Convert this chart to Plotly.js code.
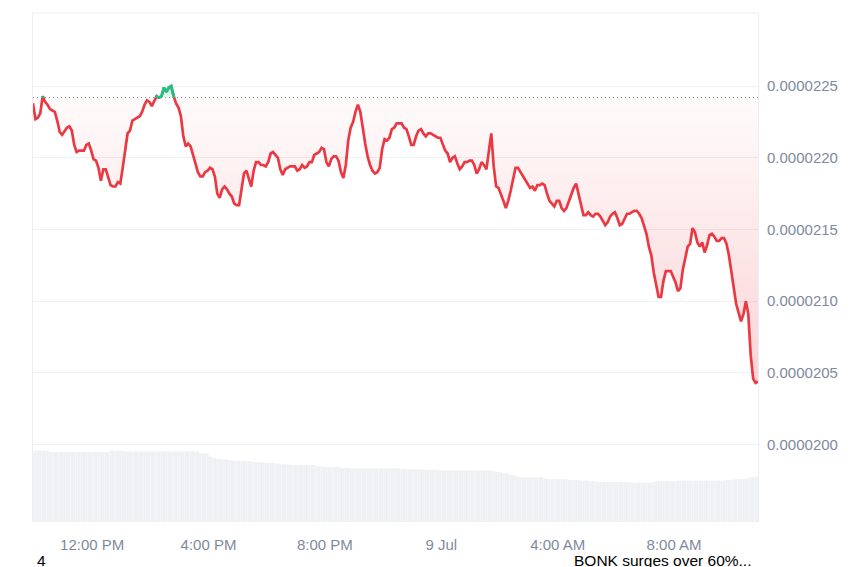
<!DOCTYPE html>
<html>
<head>
<meta charset="utf-8">
<script src="https://cdn.plot.ly/plotly-3.0.1.min.js"></script>
<style>
html,body{margin:0;padding:0;background:#ffffff;}
#chart{width:850px;height:567px;}
</style>
</head>
<body>
<div id="chart"></div>
<script>
// ---- data (5-minute samples) ----
const startTime = '2024-07-08T09:58:00Z';
const endTime = '2024-07-09T10:53:00Z';
const stepMinutes = 5;

const price = [
2.238e-5,2.227e-5,2.228e-5,2.231e-5,2.243e-5,2.239e-5,2.237e-5,2.234e-5,2.233e-5,2.232e-5,
2.226e-5,2.218e-5,2.216e-5,2.219e-5,2.221e-5,2.222e-5,2.219e-5,2.209e-5,2.204e-5,2.205e-5,
2.205e-5,2.205e-5,2.209e-5,2.210e-5,2.205e-5,2.199e-5,2.198e-5,2.193e-5,2.184e-5,2.192e-5,
2.192e-5,2.186e-5,2.181e-5,2.180e-5,2.180e-5,2.183e-5,2.182e-5,2.193e-5,2.207e-5,2.217e-5,
2.219e-5,2.226e-5,2.227e-5,2.228e-5,2.229e-5,2.232e-5,2.237e-5,2.240e-5,2.239e-5,2.236e-5,
2.240e-5,2.243e-5,2.242e-5,2.243e-5,2.249e-5,2.246e-5,2.249e-5,2.250e-5,2.243e-5,2.238e-5,
2.235e-5,2.229e-5,2.215e-5,2.208e-5,2.210e-5,2.208e-5,2.202e-5,2.196e-5,2.190e-5,2.187e-5,
2.187e-5,2.190e-5,2.191e-5,2.193e-5,2.192e-5,2.187e-5,2.175e-5,2.172e-5,2.178e-5,2.180e-5,
2.178e-5,2.175e-5,2.173e-5,2.168e-5,2.167e-5,2.167e-5,2.177e-5,2.189e-5,2.191e-5,2.185e-5,
2.180e-5,2.191e-5,2.197e-5,2.197e-5,2.195e-5,2.195e-5,2.194e-5,2.197e-5,2.203e-5,2.204e-5,
2.202e-5,2.200e-5,2.192e-5,2.188e-5,2.192e-5,2.193e-5,2.194e-5,2.194e-5,2.194e-5,2.191e-5,
2.192e-5,2.195e-5,2.193e-5,2.194e-5,2.197e-5,2.197e-5,2.202e-5,2.203e-5,2.204e-5,2.207e-5,
2.206e-5,2.197e-5,2.194e-5,2.199e-5,2.201e-5,2.201e-5,2.198e-5,2.190e-5,2.186e-5,2.195e-5,
2.212e-5,2.221e-5,2.225e-5,2.232e-5,2.237e-5,2.232e-5,2.220e-5,2.210e-5,2.201e-5,2.195e-5,
2.191e-5,2.189e-5,2.190e-5,2.193e-5,2.206e-5,2.213e-5,2.212e-5,2.214e-5,2.220e-5,2.221e-5,
2.224e-5,2.224e-5,2.224e-5,2.221e-5,2.220e-5,2.215e-5,2.209e-5,2.209e-5,2.215e-5,2.219e-5,
2.220e-5,2.217e-5,2.215e-5,2.217e-5,2.217e-5,2.216e-5,2.215e-5,2.214e-5,2.214e-5,2.209e-5,
2.205e-5,2.203e-5,2.197e-5,2.200e-5,2.201e-5,2.196e-5,2.192e-5,2.194e-5,2.197e-5,2.197e-5,
2.198e-5,2.198e-5,2.195e-5,2.189e-5,2.192e-5,2.197e-5,2.195e-5,2.192e-5,2.206e-5,2.217e-5,
2.194e-5,2.180e-5,2.179e-5,2.175e-5,2.170e-5,2.165e-5,2.170e-5,2.177e-5,2.185e-5,2.193e-5,
2.193e-5,2.190e-5,2.188e-5,2.185e-5,2.182e-5,2.179e-5,2.180e-5,2.177e-5,2.181e-5,2.181e-5,
2.182e-5,2.181e-5,2.175e-5,2.170e-5,2.168e-5,2.166e-5,2.170e-5,2.170e-5,2.165e-5,2.163e-5,
2.165e-5,2.170e-5,2.175e-5,2.179e-5,2.182e-5,2.175e-5,2.166e-5,2.160e-5,2.160e-5,2.162e-5,
2.160e-5,2.159e-5,2.161e-5,2.161e-5,2.159e-5,2.156e-5,2.153e-5,2.155e-5,2.159e-5,2.161e-5,
2.162e-5,2.158e-5,2.153e-5,2.154e-5,2.158e-5,2.161e-5,2.161e-5,2.162e-5,2.163e-5,2.163e-5,
2.161e-5,2.158e-5,2.153e-5,2.147e-5,2.138e-5,2.132e-5,2.120e-5,2.110e-5,2.103e-5,2.103e-5,
2.114e-5,2.121e-5,2.121e-5,2.121e-5,2.117e-5,2.113e-5,2.107e-5,2.109e-5,2.122e-5,2.131e-5,
2.138e-5,2.140e-5,2.151e-5,2.148e-5,2.141e-5,2.138e-5,2.141e-5,2.134e-5,2.139e-5,2.146e-5,
2.147e-5,2.145e-5,2.142e-5,2.142e-5,2.144e-5,2.144e-5,2.140e-5,2.132e-5,2.121e-5,2.108e-5,
2.098e-5,2.092e-5,2.086e-5,2.091e-5,2.100e-5,2.091e-5,2.062e-5,2.046e-5,2.043e-5,2.044e-5
];

// rolling volume (relative units)
const volume = [
105,105,105,105,105,105,105,
103,103,103,103,103,103,103,103,103,103,103,103,103,103,103,103,103,103,103,103,103,103,103,103,103,
105,105,105,105,105,105,
104,104,104,104,104,104,104,104,104,104,104,104,104,104,104,104,104,104,104,104,104,104,104,104,104,104,104,104,104,104,104,
101,101,101,101,
96,95,94,
93,93,92,92,92,91,91,
90,90,90,90,90,90,90,
89,89,88,88,88,88,88,87,87,87,86,
86,86,85,85,85,
84,84,84,84,84,84,84,84,84,84,84,
82,82,82,81,81,81,81,81,81,81,80,80,80,80,
79,79,79,79,79,79,79,79,79,79,79,79,79,79,79,79,79,79,79,79,79,
78,78,78,78,78,78,78,78,78,78,
77,77,77,77,77,77,
76,76,76,76,76,76,76,76,76,76,76,76,76,76,76,76,76,76,76,76,76,76,
75,74,74,73,72,72,71,70,69,68,67,
66,66,66,66,66,66,66,66,66,66,
64,64,63,63,63,63,63,63,63,63,62,62,62,62,62,61,61,61,61,60,
60,60,59,59,59,59,59,59,59,59,59,59,59,59,59,59,58,58,58,
58,58,58,58,58,58,
59,60,60,60,60,60,60,60,60,60,
61,61,61,61,61,61,61,61,61,61,61,61,61,61,61,61,61,61,61,61,
62,62,62,63,63,63,63,63,
64,65,66,66,66,67
];

const baseline = 0.00002242;   // reference (opening) price, dotted line
const yTickVals = [0.0000200, 0.0000205, 0.0000210, 0.0000215, 0.0000220, 0.0000225];
const yRange = [0.00001946, 0.00002301];
const xTickVals = ['2024-07-08 12:00', '2024-07-08 16:00', '2024-07-08 20:00',
                   '2024-07-09 00:00', '2024-07-09 04:00', '2024-07-09 08:00'];
const xTickText = ['12:00 PM', '4:00 PM', '8:00 PM', '9 Jul', '4:00 AM', '8:00 AM'];

// ---- build ----
const t0 = Date.parse(startTime);
const times = price.map((_, i) => t0 + i * stepMinutes * 60000);
const n = price.length;

// green overlay: parts of the line above the baseline
const gx = [], gy = [];
function cross(i, j) {
  const a = price[i], b = price[j];
  const f = (baseline - a) / (b - a);
  return times[i] + f * (times[j] - times[i]);
}
for (let i = 0; i < n; i++) {
  if (price[i] > baseline) {
    if (i > 0 && price[i - 1] <= baseline) { gx.push(cross(i - 1, i)); gy.push(baseline); }
    gx.push(times[i]); gy.push(price[i]);
    if (i < n - 1 && price[i + 1] <= baseline) { gx.push(cross(i, i + 1)); gy.push(baseline); gx.push(null); gy.push(null); }
  }
}

const red = '#ea3943';
const green = '#16c784';
const gStart = 0.00002040, gStop = 0.00002251;
const bf = (baseline - gStart) / (gStop - gStart);

const traces = [
  {
    type: 'bar', x: times, y: volume, yaxis: 'y2',
    marker: {color: '#eef0f3', line: {width: 0}},
    hoverinfo: 'skip'
  },
  {
    type: 'scatter', mode: 'lines', x: times, y: price.map(() => baseline),
    line: {width: 0, color: 'rgba(0,0,0,0)'}, hoverinfo: 'skip'
  },
  {
    type: 'scatter', mode: 'lines', x: times, y: price,
    line: {color: red, width: 2.7, shape: 'linear'},
    fill: 'tonexty',
    fillgradient: {
      type: 'vertical', start: gStart, stop: gStop,
      colorscale: [
        [0, 'rgba(234,57,67,0.22)'],
        [bf - 0.002, 'rgba(234,57,67,0.02)'],
        [bf + 0.002, 'rgba(22,199,132,0.12)'],
        [1, 'rgba(22,199,132,0.30)']
      ]
    }
  },
  {
    type: 'scatter', mode: 'lines', x: gx, y: gy, connectgaps: false,
    line: {color: green, width: 2.7}, hoverinfo: 'skip'
  }
];

const font = 'Liberation Sans, Arial, sans-serif';
const layout = {
  width: 850, height: 567,
  margin: {l: 33, r: 92, t: 13, b: 45, pad: 0},
  paper_bgcolor: '#ffffff', plot_bgcolor: '#ffffff',
  showlegend: false,
  bargap: 0.05,
  font: {family: font, size: 15, color: '#808a9d'},
  xaxis: {
    type: 'date',
    range: [t0, Date.parse(endTime)],
    tickvals: xTickVals, ticktext: xTickText,
    showgrid: false, zeroline: false, showline: false,
    ticks: 'outside', ticklen: 9, tickcolor: 'rgba(0,0,0,0)',
    tickfont: {family: font, size: 15, color: '#808a9d'}
  },
  yaxis: {
    side: 'right', range: yRange,
    tickvals: yTickVals, tickformat: '.7f',
    showgrid: true, gridcolor: '#eff1f4', gridwidth: 1,
    zeroline: false,
    showline: true, mirror: true, linecolor: '#eceef1', linewidth: 1,
    ticks: 'outside', ticklen: 5, tickcolor: 'rgba(0,0,0,0)',
    tickfont: {family: font, size: 15, color: '#808a9d'}
  },
  yaxis2: {
    overlaying: 'y', range: [0, 750], visible: false, fixedrange: true
  },
  shapes: [
    {type: 'line', xref: 'paper', x0: 0, x1: 1, yref: 'y', y0: baseline, y1: baseline,
     line: {color: '#808a9d', width: 1, dash: '1px,3px'}, layer: 'above'},
    {type: 'line', xref: 'paper', x0: 0, x1: 1, yref: 'paper', y0: 1, y1: 1,
     line: {color: '#eceef1', width: 1}}
  ],
  annotations: [
    {text: '4', xref: 'paper', yref: 'paper', x: 0.003, y: -0.075, xanchor: 'left', yanchor: 'middle',
     showarrow: false, font: {family: font, size: 15.5, color: '#000000'}},
    {text: 'BONK surges over 60%...', xref: 'paper', yref: 'paper', x: 0.743, y: -0.075,
     xanchor: 'left', yanchor: 'middle', showarrow: false,
     font: {family: font, size: 15.5, color: '#000000'}}
  ]
};

Plotly.newPlot('chart', traces, layout, {displayModeBar: false, staticPlot: true});
</script>
</body>
</html>
